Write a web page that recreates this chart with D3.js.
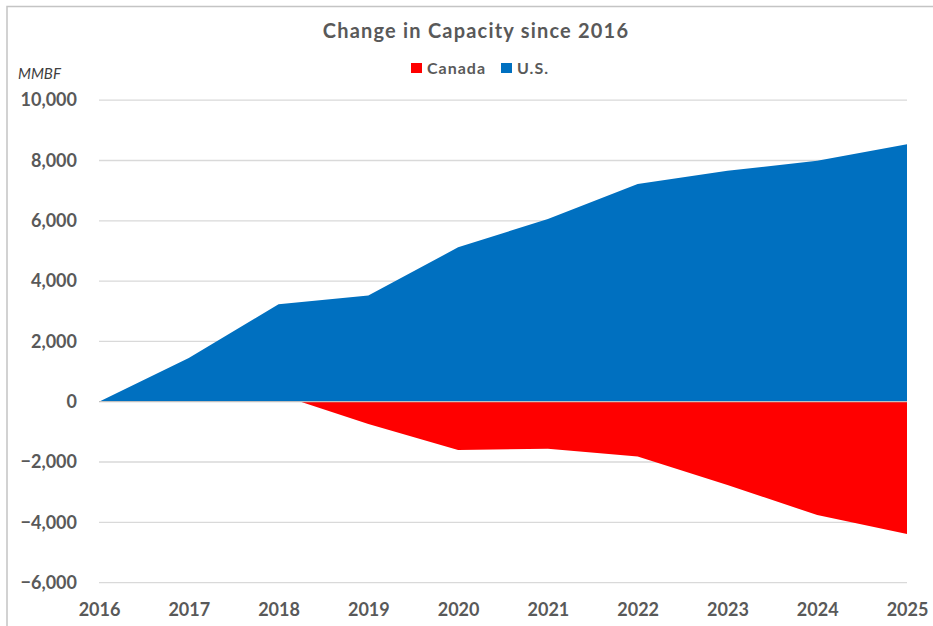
<!DOCTYPE html>
<html>
<head>
<meta charset="utf-8">
<script src="https://cdn.jsdelivr.net/npm/d3@7"></script>
<style>
  html, body { margin: 0; padding: 0; background: #fff; }
  svg { display: block; font-family: Lato, "Open Sans", sans-serif; }
</style>
</head>
<body>
<div id="chart"></div>
<script>
// === data
const years = [2016, 2017, 2018, 2019, 2020, 2021, 2022, 2023, 2024, 2025];
const usValues = [0, 1450, 3230, 3520, 5120, 6060, 7220, 7660, 7990, 8540];
const canadaValues = [0, 0, 240, -740, -1600, -1560, -1820, -2760, -3760, -4390];
const yTicks = [-6000, -4000, -2000, 0, 2000, 4000, 6000, 8000, 10000];
const seriesNames = ["Canada", "U.S."];
const seriesColors = ["#FF0000", "#0070C0"];

const W = 933, H = 626;
const plot = {x1: 99, x2: 907, y1: 100.2, y2: 582.6};

const svg = d3.select("#chart").append("svg")
  .attr("width", W)
  .attr("height", H)
  .attr("viewBox", "0 0 " + W + " " + H);

// chart border (runs off the right and bottom of the picture)
svg.append("rect")
  .attr("x", 7).attr("y", 6.5)
  .attr("width", 960).attr("height", 660)
  .attr("fill", "none")
  .attr("stroke", "#c4c4c4")
  .attr("stroke-width", 1.5);

const x = d3.scaleLinear().domain([2016, 2025]).range([plot.x1, plot.x2]);
const y = d3.scaleLinear().domain([-6000, 10000]).range([plot.y2, plot.y1]);

// gridlines behind the areas
svg.append("g")
  .selectAll("line")
  .data(yTicks.filter(d => d !== 0))
  .join("line")
  .attr("x1", plot.x1).attr("x2", plot.x2)
  .attr("y1", d => y(d)).attr("y2", d => y(d))
  .attr("stroke", "#d9d9d9")
  .attr("stroke-width", 1.3);

const area = vals => d3.area()
  .x((d, i) => x(years[i]))
  .y0(y(0))
  .y1(d => y(d))(vals);

svg.append("path").attr("d", area(canadaValues)).attr("fill", seriesColors[0]);
svg.append("path").attr("d", area(usValues)).attr("fill", seriesColors[1]);

// zero axis line on top
svg.append("line")
  .attr("x1", plot.x1).attr("x2", plot.x2)
  .attr("y1", y(0)).attr("y2", y(0))
  .attr("stroke", "#bfbfbf")
  .attr("stroke-width", 1.3);

// y axis labels
const yAxis = d3.axisLeft(y).tickValues(yTicks).tickSize(0).tickPadding(0)
  .tickFormat(d3.format(","));
const gy = svg.append("g")
  .attr("transform", "translate(77,0)")
  .call(yAxis);
gy.select(".domain").remove();
gy.selectAll("text")
  .attr("fill", "#595959")
  .style("font-size", "18px")
  .style("font-weight", "bold")
  .style("font-family", "Lato, sans-serif");

// x axis labels
const xAxis = d3.axisBottom(x).tickValues(years).tickSize(0).tickPadding(0)
  .tickFormat(d3.format("d"));
const gx = svg.append("g")
  .attr("transform", "translate(0,603)")
  .call(xAxis);
gx.select(".domain").remove();
gx.selectAll("text")
  .attr("fill", "#595959")
  .style("font-size", "18px")
  .style("font-weight", "bold")
  .style("font-family", "Lato, sans-serif");

// title
svg.append("text")
  .attr("x", 476).attr("y", 38)
  .attr("text-anchor", "middle")
  .attr("fill", "#595959")
  .style("font-size", "20px")
  .style("font-weight", "bold")
  .style("letter-spacing", "1.2px")
  .text("Change in Capacity since 2016");

// unit label
svg.append("text")
  .attr("x", 18).attr("y", 79)
  .attr("fill", "#404040")
  .style("font-size", "15px")
  .style("font-style", "italic")
  .text("MMBF");

// legend
const legendX = [411, 501];
const legend = svg.append("g")
  .selectAll("g")
  .data(seriesNames)
  .join("g")
  .attr("transform", (d, i) => "translate(" + legendX[i] + ",63)");
legend.append("rect")
  .attr("width", 11).attr("height", 10)
  .attr("fill", (d, i) => seriesColors[i]);
legend.append("text")
  .attr("x", 16).attr("y", 10.5)
  .attr("fill", "#595959")
  .style("font-size", "16px")
  .style("font-weight", "bold")
  .style("letter-spacing", "1px")
  .text(d => d);
</script>
</body>
</html>
